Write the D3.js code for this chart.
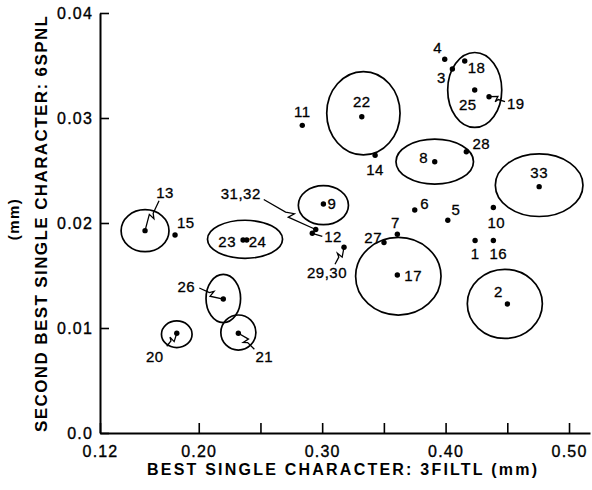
<!DOCTYPE html>
<html>
<head>
<meta charset="utf-8">
<script src="https://cdn.jsdelivr.net/npm/d3@7"></script>
<style>
body { margin: 0; background: #fff; }
svg { display: block; font-family: "Liberation Sans", Arial, sans-serif; }
</style>
</head>
<body>
<div id="chart"></div>
<script>
// character ids and their two best single-character scores (mm)
var pointIds = ["1", "2", "3", "4", "5", "6", "7", "8", "9", "10", "11", "12", "13", "14", "15", "16", "17",
    "18", "19", "20", "21", "22", "23", "24", "25", "26", "27", "28", "29,30", "31,32", "33"];
var bestSingle = [0.4239, 0.4501, 0.4055, 0.3993, 0.4018, 0.3750, 0.3609, 0.3912, 0.3010, 0.4387, 0.2839,
    0.2920, 0.1565, 0.3429, 0.1808, 0.4387, 0.3609, 0.4155, 0.4352, 0.1822, 0.2321, 0.3321, 0.2359, 0.2389,
    0.4236, 0.2199, 0.3501, 0.4168, 0.3177, 0.2948, 0.4758];
var secondBest = [0.01833, 0.01229, 0.03467, 0.03559, 0.02026, 0.02124, 0.01893, 0.02584, 0.02181, 0.02148,
    0.02930, 0.01902, 0.01927, 0.02645, 0.01886, 0.01833, 0.01505, 0.03543, 0.03203, 0.00950, 0.00950, 0.03012,
    0.01838, 0.01838, 0.03267, 0.01276, 0.01814, 0.02679, 0.01769, 0.01938, 0.02346];

// spread ellipses (centre and half-widths in mm)
var ellipseIds = ["13", "9", "23-24", "25", "22", "8", "33", "17", "2", "26", "21", "20"];
var ellipseCx = [0.1565, 0.3010, 0.2375, 0.4236, 0.3334, 0.3912, 0.4758, 0.3617, 0.4480, 0.2199, 0.2321, 0.1822];
var ellipseCy = [0.01927, 0.02170, 0.01845, 0.03267, 0.03045, 0.02584, 0.02360, 0.01493, 0.01230, 0.01281, 0.00957, 0.00940];
var ellipseRx = [0.0194, 0.0203, 0.0304, 0.0219, 0.0297, 0.0314, 0.0355, 0.0346, 0.0304, 0.0140, 0.0142, 0.0124];
var ellipseRy = [0.00200, 0.00186, 0.00181, 0.00357, 0.00397, 0.00214, 0.00298, 0.00370, 0.00329, 0.00230, 0.00167, 0.00127];

var xTicks = [0.12, 0.20, 0.25, 0.30, 0.35, 0.40, 0.45, 0.50];
var xTickLabels = ["0.12", "0.20", "", "0.30", "", "0.40", "", "0.50"];
var yTicks = [0, 0.01, 0.02, 0.03, 0.04];
var yTickLabels = ["0.0", "0.01", "0.02", "0.03", "0.04"];

// label placement relative to each point (px)
var labelPlace = {
    "1": [0, 18.5, "middle"], "2": [-9, -7, "middle"], "3": [-11, 14, "middle"], "4": [-7, -6, "middle"],
    "5": [8, -5, "middle"], "6": [10, -1, "middle"], "7": [-2, -6, "middle"], "8": [-11, 1, "middle"],
    "9": [4, 5, "start"], "10": [3, 20.5, "middle"], "11": [0, -8, "middle"], "12": [12, 9, "start"],
    "13": [20, -33, "middle"], "14": [0, 20, "middle"], "15": [2, -7, "start"], "16": [5, 18.5, "middle"],
    "17": [7, 6, "start"], "18": [3, 12, "start"], "19": [18, 12, "start"], "20": [-22, 29, "middle"],
    "21": [26, 29, "middle"], "22": [0, -10, "middle"], "23": [-7, 7, "end"], "24": [2, 7, "start"],
    "25": [-7, 20, "middle"], "26": [-37, -7, "middle"], "27": [-2, 0, "end"], "28": [15, -3, "middle"],
    "29,30": [-17, 31, "middle"], "31,32": [-75, -31, "middle"], "33": [0, -9, "middle"]
};
// leader lines: far end offset from the point (px), zigzag or straight
var leaders = [
    {id: "13", dx: 14, dy: -30, zig: true}, {id: "31,32", dx: -52, dy: -30, zig: true},
    {id: "12", dx: 10, dy: 3, zig: false}, {id: "29,30", dx: -9, dy: 17, zig: true},
    {id: "26", dx: -24, dy: -11, zig: true}, {id: "21", dx: 16, dy: 16, zig: true},
    {id: "20", dx: -10, dy: 13, zig: true}, {id: "19", dx: 16, dy: 5, zig: true}
];

var width = 592, height = 490;
var font = "'Liberation Sans', Arial, sans-serif";
var svg = d3.select("#chart").append("svg")
    .attr("width", width)
    .attr("height", height);

var x = d3.scaleLinear().domain([0.12, 0.517]).range([100, 590]);
var y = d3.scaleLinear().domain([0, 0.04]).range([433, 13]);

var points = pointIds.map(function(id, i) {
    return {id: id, x: bestSingle[i], y: secondBest[i]};
});
var byId = {};
points.forEach(function(p) { byId[p.id] = p; });

// axes
var xAxis = svg.append("g")
    .attr("transform", "translate(0,433)")
    .call(d3.axisBottom(x).tickValues(xTicks).tickSize(-10).tickSizeOuter(0).tickPadding(13)
        .tickFormat(function(d, i) { return xTickLabels[i]; }));
var yAxis = svg.append("g")
    .attr("transform", "translate(100,0)")
    .call(d3.axisLeft(y).tickValues(yTicks).tickSize(-9).tickSizeOuter(0).tickPadding(7)
        .tickFormat(function(d, i) { return yTickLabels[i]; }));

[xAxis, yAxis].forEach(function(g) {
    g.attr("font-family", font);
    g.select(".domain").attr("stroke", "#000").attr("stroke-width", 2);
    g.selectAll(".tick line").attr("stroke", "#000").attr("stroke-width", 1.6);
    g.selectAll(".tick text")
        .attr("fill", "#000")
        .attr("stroke", "#000")
        .attr("stroke-width", 0.35)
        .style("font-size", "16px")
        .style("letter-spacing", "1.2px");
});

// axis titles
svg.append("text")
    .attr("x", 342)
    .attr("y", 475)
    .attr("text-anchor", "middle")
    .attr("textLength", 390)
    .attr("lengthAdjust", "spacing")
    .style("font-size", "16px")
    .style("font-weight", "bold")
    .text("BEST SINGLE CHARACTER: 3FILTL (mm)");

svg.append("text")
    .attr("transform", "translate(47,224) rotate(-90)")
    .attr("text-anchor", "middle")
    .attr("textLength", 416)
    .attr("lengthAdjust", "spacing")
    .style("font-size", "17px")
    .style("font-weight", "bold")
    .text("SECOND BEST SINGLE CHARACTER: 6SPNL");

svg.append("text")
    .attr("transform", "translate(19,219) rotate(-90)")
    .attr("text-anchor", "middle")
    .style("font-size", "15px")
    .style("font-weight", "bold")
    .style("letter-spacing", "1.5px")
    .text("(mm)");

// ellipses
svg.selectAll(".spread")
    .data(ellipseIds.map(function(id, i) {
        return {id: id, cx: ellipseCx[i], cy: ellipseCy[i], rx: ellipseRx[i], ry: ellipseRy[i]};
    }))
    .enter().append("ellipse")
    .attr("class", "spread")
    .attr("cx", function(d) { return x(d.cx); })
    .attr("cy", function(d) { return y(d.cy); })
    .attr("rx", function(d) { return x(d.cx + d.rx) - x(d.cx); })
    .attr("ry", function(d) { return y(d.cy) - y(d.cy + d.ry); })
    .attr("fill", "none")
    .attr("stroke", "#000")
    .attr("stroke-width", 1.7);

// leader lines
function leaderPath(d) {
    var p = byId[d.id];
    var x2 = x(p.x), y2 = y(p.y);
    var x1 = x2 + d.dx, y1 = y2 + d.dy;
    if (!d.zig) return "M" + x1 + "," + y1 + "L" + x2 + "," + y2;
    var len = Math.sqrt(d.dx * d.dx + d.dy * d.dy);
    var nx = -d.dy / len * 3, ny = d.dx / len * 3;
    function at(t) { return [x1 + (x2 - x1) * t, y1 + (y2 - y1) * t]; }
    var a = at(0.42), b = at(0.56), c = at(0.5);
    return "M" + x1 + "," + y1 +
        "L" + a[0] + "," + a[1] +
        "L" + (b[0] + nx) + "," + (b[1] + ny) +
        "L" + (c[0] - nx) + "," + (c[1] - ny) +
        "L" + x2 + "," + y2;
}
svg.selectAll(".leader")
    .data(leaders)
    .enter().append("path")
    .attr("class", "leader")
    .attr("d", leaderPath)
    .attr("fill", "none")
    .attr("stroke", "#000")
    .attr("stroke-width", 1.3);

// points
svg.selectAll(".dot")
    .data(points)
    .enter().append("circle")
    .attr("class", "dot")
    .attr("cx", function(d) { return x(d.x); })
    .attr("cy", function(d) { return y(d.y); })
    .attr("r", 2.7)
    .attr("fill", "#000");

// point labels
svg.selectAll(".lbl")
    .data(points)
    .enter().append("text")
    .attr("class", "lbl")
    .attr("x", function(d) { return x(d.x) + labelPlace[d.id][0]; })
    .attr("y", function(d) { return y(d.y) + labelPlace[d.id][1]; })
    .attr("text-anchor", function(d) { return labelPlace[d.id][2]; })
    .attr("stroke", "#000")
    .attr("stroke-width", 0.3)
    .style("font-size", "15px")
    .style("letter-spacing", "0.5px")
    .text(function(d) { return d.id; });
</script>
</body>
</html>
